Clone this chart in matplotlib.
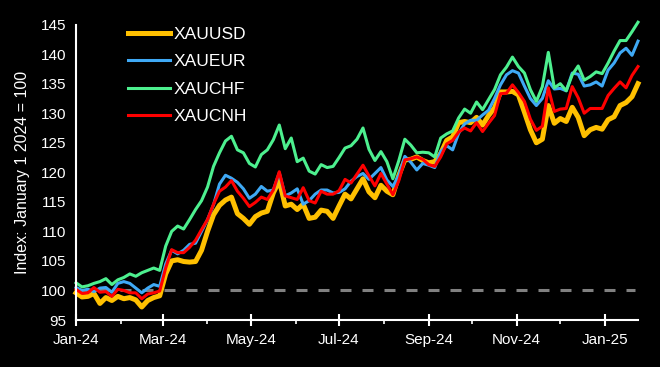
import matplotlib
matplotlib.use("Agg")
import matplotlib.dates as mdates
import matplotlib.pyplot as plt
import pandas as pd

# sample dates, Jan 1 2024 .. Jan 24 2025
dates = pd.date_range("2024-01-01", "2025-01-24", periods=95)

xauusd = [99.6, 98.9, 99.0, 99.5, 97.8, 98.8, 98.3, 99.0, 98.6, 98.8,
          98.4, 97.2, 98.3, 98.8, 99.1, 102.8, 105.0, 105.2, 104.9, 104.8,
          104.9, 106.8, 110.0, 112.8, 114.4, 115.3, 115.8, 113.0, 112.2, 111.2,
          112.5, 113.1, 113.4, 116.5, 118.6, 114.3, 114.6, 113.7, 114.6, 112.2,
          112.4, 113.6, 113.4, 112.2, 114.3, 116.3, 115.5, 117.2, 118.9, 116.7,
          115.7, 117.8, 116.8, 116.2, 119.5, 122.1, 122.2, 122.6, 122.0, 121.6,
          121.8, 123.2, 125.4, 126.0, 128.4, 128.6, 128.4, 129.3, 128.0, 129.6,
          130.9, 133.6, 133.6, 133.7, 133.1, 130.2, 127.2, 125.0, 125.6, 131.3,
          128.3, 129.1, 128.6, 131.0, 129.3, 126.2, 127.2, 127.6, 127.3, 128.9,
          129.4, 131.3, 131.8, 132.8, 135.0]

xaueur = [100.5, 100.0, 100.2, 99.8, 100.4, 100.5, 99.7, 101.2, 101.5, 101.2,
          100.4, 99.6, 100.4, 101.0, 100.7, 104.5, 106.8, 106.2, 106.8, 107.8,
          108.0, 110.0, 112.0, 114.5, 118.0, 119.5, 119.0, 118.3, 117.2, 115.6,
          116.3, 117.6, 116.8, 117.0, 119.9, 116.0, 116.5, 117.2, 114.6, 115.2,
          116.3, 117.0, 117.0, 116.5, 116.6, 117.2, 118.5, 119.3, 119.8, 118.8,
          119.8, 120.8, 118.7, 117.6, 119.5, 122.7, 121.7, 120.4, 121.5, 121.2,
          120.8, 123.5, 124.5, 123.8, 126.6, 128.2, 128.8, 128.8, 129.7, 130.5,
          132.5, 134.8, 136.5, 137.2, 136.8, 134.6, 132.5, 131.3, 132.5, 135.5,
          134.1, 134.2, 133.8, 136.8, 136.6, 134.6, 134.8, 135.3, 134.6, 137.3,
          138.5, 140.2, 141.0, 139.8, 142.2]

xauchf = [101.3, 100.6, 100.8, 101.2, 101.5, 102.0, 101.0, 101.8, 102.2, 102.8,
          102.4, 103.0, 103.4, 103.8, 103.4, 107.5, 110.0, 110.9, 110.4, 112.0,
          113.7, 115.2, 117.5, 121.0, 123.3, 125.3, 126.1, 123.8, 123.3, 121.5,
          120.9, 123.0, 123.8, 125.5, 128.0, 124.0, 125.8, 121.8, 122.4, 120.2,
          119.7, 121.3, 120.8, 121.0, 122.5, 124.1, 124.5, 125.6, 127.5, 123.9,
          122.0, 123.5, 121.8, 118.9, 122.0, 125.6, 124.6, 123.3, 123.4, 123.3,
          122.6, 125.8, 126.5, 127.0, 129.2, 130.7, 130.0, 131.9, 130.6, 132.3,
          134.0, 136.5, 137.8, 139.5, 137.9, 136.8, 134.0, 132.0, 134.5, 140.3,
          134.3, 135.0, 133.8, 136.5, 138.0, 135.6, 136.2, 137.0, 136.7, 138.5,
          140.5, 142.3, 142.3, 143.8, 145.4]

xaucnh = [100.2, 99.5, 99.6, 100.5, 99.7, 99.8, 99.0, 100.2, 100.0, 99.6,
          99.6, 98.6, 99.4, 99.6, 99.9, 103.8, 106.9, 106.4, 106.4, 107.3,
          108.5, 110.3, 112.0, 114.6, 116.8, 117.5, 118.6, 116.8, 115.6, 114.2,
          114.9, 115.8, 115.4, 117.0, 120.1, 116.0, 115.7, 115.4, 117.4, 115.2,
          114.8, 116.8, 116.3, 116.3, 116.9, 118.8, 118.2, 119.7, 121.2, 119.4,
          117.7, 119.8, 118.0, 116.2, 118.6, 122.1, 122.3, 122.6, 122.2, 121.3,
          121.0, 122.6, 124.8, 125.4, 126.8, 127.5, 127.0, 128.4, 126.9, 128.3,
          129.6, 133.3, 133.4, 134.8, 133.5, 132.0, 129.0, 127.1, 127.8, 134.3,
          130.3, 130.7, 130.8, 134.5, 132.6, 130.0, 130.8, 130.8, 130.8, 133.0,
          134.2, 135.3, 134.3, 136.4, 137.9]

names = ["XAUUSD", "XAUEUR", "XAUCHF", "XAUCNH"]
colors = ["#FFC000", "#3FA9F5", "#4DF08F", "#FF0000"]
widths = [3.6, 2.2, 2.2, 2.2]

plt.rcParams["font.family"] = ["Liberation Sans", "DejaVu Sans"]

fig = plt.figure(figsize=(6.6, 3.67), dpi=100, facecolor="black")
ax = fig.add_axes([76 / 660, 1 - 320 / 367, 562 / 660, 295.4 / 367])
ax.set_facecolor("black")

ax.axhline(100, xmin=0, xmax=(635 - 76) / 562, color="#808080", lw=2.2,
           linestyle=(0, (3.6, 3.6)))

for s, n, c, w in zip([xauusd, xaueur, xauchf, xaucnh], names, colors, widths):
    ax.plot(dates, s, color=c, lw=w, label=n, clip_on=False,
            solid_joinstyle="round")

ax.set_xlim(dates[0], dates[-1])
ax.set_ylim(95, 145)
ax.set_yticks(range(95, 146, 5))

ax.xaxis.set_major_locator(mdates.MonthLocator(bymonth=[1, 3, 5, 7, 9, 11]))
ax.xaxis.set_major_formatter(mdates.DateFormatter("%b-%y"))
ax.xaxis.set_minor_locator(mdates.MonthLocator())

for side in ["top", "right"]:
    ax.spines[side].set_visible(False)
for side in ["left", "bottom"]:
    ax.spines[side].set_color("white")
    ax.spines[side].set_linewidth(1.5)

ax.tick_params(axis="x", which="major", direction="inout", length=9,
               width=1.5, color="white", labelcolor="white", labelsize=11,
               pad=5)
ax.tick_params(axis="x", which="minor", direction="out", length=3,
               width=1.2, color="white")
ax.tick_params(axis="y", length=0, labelcolor="white", labelsize=11, pad=7)

ax.set_ylabel("Index: January 1 2024 = 100", color="white", fontsize=11.5,
              labelpad=8)

ax.legend(loc="upper left", bbox_to_anchor=(128 / 660, 1 - 27 / 367),
          bbox_transform=fig.transFigure, frameon=False, fontsize=12.5,
          labelcolor="white", handlelength=2.4, handletextpad=0.25,
          labelspacing=0.7, borderpad=0, borderaxespad=0)

fig.savefig("out.png", dpi=100, facecolor="black")
plt.close(fig)
